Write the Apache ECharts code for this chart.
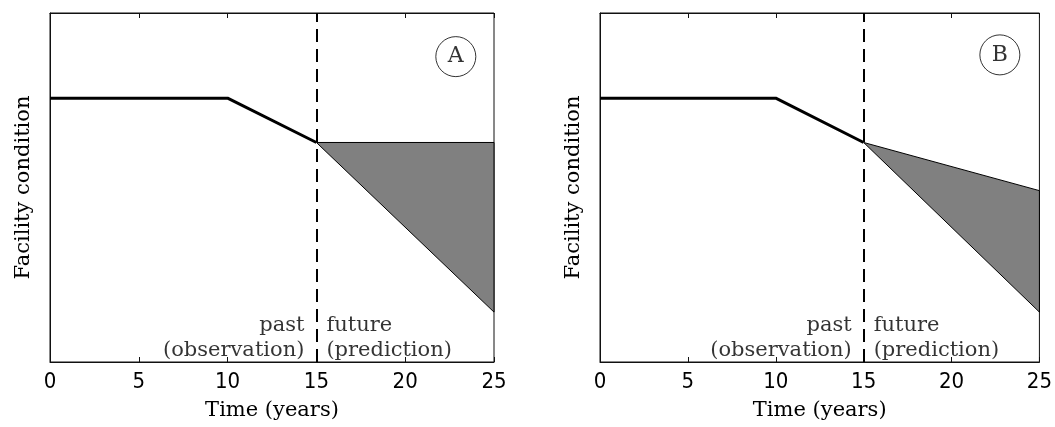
<!DOCTYPE html>
<html>
<head>
<meta charset="utf-8">
<script src="https://cdn.jsdelivr.net/npm/echarts@6/dist/echarts.min.js"></script>
<style>html,body{margin:0;padding:0;background:#fff}#c{width:1055px;height:427px}</style>
</head>
<body>
<div id="c"></div>
<script>
// ---- data ----
var xTicks = [0, 5, 10, 15, 20, 25];
var pastX = [0, 10, 15];
var pastY = [0.756, 0.756, 0.629];
var futureX = [15, 25];
var upperA = [0.629, 0.629];
var lowerA = [0.629, 0.143];
var upperB = [0.629, 0.491];
var lowerB = [0.629, 0.143];
var panelLabels = ['A', 'B'];
var panelLabelPos = [[22.85, 0.875], [22.75, 0.88]];
var boundaryX = 15;
var pastText = 'past\n(observation)';
var futureText = 'future\n(prediction)';
var textY = 0.068;

var SERIF = '"DejaVu Serif", "Liberation Serif", serif';
var NUM = '"Liberation Sans Narrow", "DejaVu Sans Condensed", "Liberation Sans", sans-serif';

var chart = echarts.init(document.getElementById('c'), null, {renderer: 'canvas'});

function zip(xs, ys) { return xs.map(function (x, i) { return [x, ys[i]]; }); }

var grids = [
  {left: 50, top: 13, width: 444, height: 349},
  {left: 600, top: 13, width: 443, height: 349}
];
var uppers = [upperA, upperB];
var lowers = [lowerA, lowerB];

var xAxes = [], yAxes = [], series = [];
grids.forEach(function (g, i) {
  g.show = true; g.borderColor = '#111'; g.borderWidth = 1; g.backgroundColor = '#fff';
  xAxes.push({
    gridIndex: i, type: 'value', min: 0, max: 25, interval: 5, position: 'bottom',
    axisLine: {show: true, lineStyle: {color: '#111', width: 1}},
    axisTick: {show: true, inside: true, length: 5, lineStyle: {color: '#111'}},
    splitLine: {show: false},
    axisLabel: {show: true, margin: 9, color: '#000', fontFamily: NUM, fontSize: 22},
    name: 'Time (years)', nameLocation: 'middle', nameGap: 38,
    nameTextStyle: {fontFamily: SERIF, fontSize: 21, color: '#000'}
  });
  xAxes.push({
    gridIndex: i, type: 'value', min: 0, max: 25, interval: 5, position: 'top',
    axisLine: {show: true, lineStyle: {color: '#111', width: 1}},
    axisTick: {show: true, inside: true, length: 5, lineStyle: {color: '#111'}},
    splitLine: {show: false}, axisLabel: {show: false}
  });
  yAxes.push({
    gridIndex: i, type: 'value', min: 0, max: 1,
    axisLine: {show: true, lineStyle: {color: '#111'}},
    axisTick: {show: false}, axisLabel: {show: false}, splitLine: {show: false},
    name: 'Facility condition', nameLocation: 'middle', nameGap: 16, nameRotate: 90,
    nameTextStyle: {fontFamily: SERIF, fontSize: 21, color: '#000'}
  });

  var upper = uppers[i], lower = lowers[i];
  // shaded prediction band
  series.push({
    type: 'custom', xAxisIndex: i * 2, yAxisIndex: i, z: 2,
    data: [[futureX[0], upper[0]]],
    renderItem: function (params, api) {
      var pts = [];
      for (var k = 0; k < futureX.length; k++) pts.push(api.coord([futureX[k], upper[k]]));
      for (var k2 = futureX.length - 1; k2 >= 0; k2--) pts.push(api.coord([futureX[k2], lower[k2]]));
      return {type: 'polygon', shape: {points: pts},
        style: {fill: '#808080', stroke: '#000', lineWidth: 1}};
    },
    silent: true
  });
  // past observation line + boundary
  series.push({
    type: 'line', xAxisIndex: i * 2, yAxisIndex: i, z: 3,
    data: zip(pastX, pastY), symbol: 'none',
    lineStyle: {color: '#000', width: 3},
    markLine: {
      silent: true, symbol: 'none', label: {show: false},
      lineStyle: {color: '#000', width: 2, type: [13, 7]},
      data: [{xAxis: boundaryX}]
    }
  });
  // text labels
  series.push({
    type: 'scatter', xAxisIndex: i * 2, yAxisIndex: i, z: 4,
    symbolSize: 0,
    data: [
      {value: [boundaryX, textY], label: {show: true, position: 'left', distance: 12, align: 'right', formatter: pastText}},
      {value: [boundaryX, textY], label: {show: true, position: 'right', distance: 10, align: 'left', formatter: futureText}}
    ],
    label: {fontFamily: SERIF, fontSize: 21, color: '#000', lineHeight: 25},
    silent: true
  });
  // panel letter in circle
  series.push({
    type: 'scatter', xAxisIndex: i * 2, yAxisIndex: i, z: 4,
    symbol: 'circle', symbolSize: 40,
    itemStyle: {color: 'rgba(0,0,0,0)', borderColor: '#000', borderWidth: 1},
    data: [panelLabelPos[i]],
    label: {show: true, position: 'inside', formatter: panelLabels[i],
      fontFamily: SERIF, fontSize: 22, color: '#000'},
    silent: true
  });
});

chart.setOption({
  animation: false,
  backgroundColor: '#fff',
  grid: grids,
  xAxis: xAxes,
  yAxis: yAxes,
  series: series
});
</script>
</body>
</html>
